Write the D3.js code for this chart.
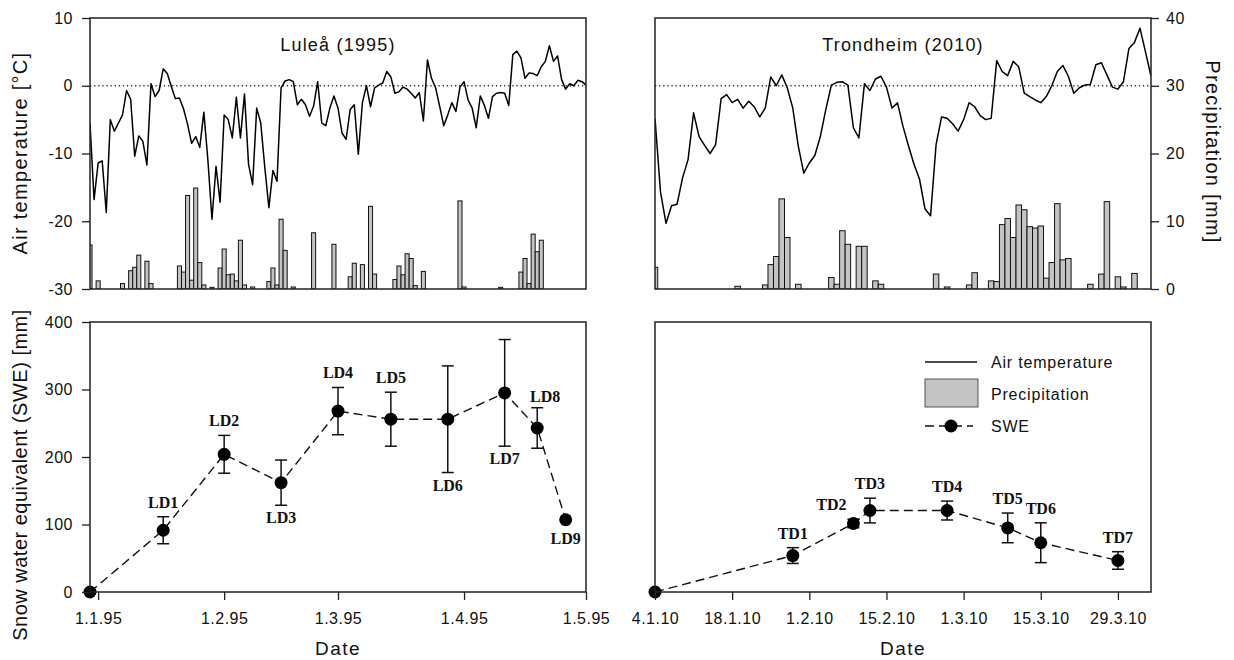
<!DOCTYPE html>
<html>
<head>
<meta charset="utf-8">
<script src="https://cdn.jsdelivr.net/npm/d3@7"></script>
<style>
  body { margin: 0; background: #fff; }
  svg { display: block; }
  text { font-family: "Liberation Sans", Arial, sans-serif; fill: #111; }
  .tick text { font-size: 16px; letter-spacing: 0.5px; }
  .tick line { stroke: #222; stroke-width: 1.3; }
  .lab { font-family: "Liberation Serif", "Times New Roman", serif; font-weight: bold; font-size: 16px; }
</style>
</head>
<body>
<script>
// daily series, Luleå starts 30.12.94, Trondheim starts 4.1.10
const luleaStart = "1994-12-30";
const luleaTemp = [
  -5.5, -16.8, -11.4, -11.1, -18.7, -5.0, -6.7, -5.5, -4.3, -0.7,
  -2.0, -10.4, -7.4, -8.2, -11.7, 0.3, -1.6, -0.7, 2.5, 1.8,
  -0.1, -1.9, -1.8, -3.4, -5.7, -8.5, -7.5, -9.1, -3.9, -11.0,
  -19.7, -11.9, -17.2, -4.3, -5.0, -7.7, -1.7, -7.7, -1.2, -11.6,
  -14.6, -3.3, -5.5, -12.1, -18.0, -12.5, -14.1, -0.3, 0.7, 0.9,
  0.6, -2.8, -2.0, -2.8, -4.5, -3.0, 0.6, -5.5, -5.9, -3.3,
  -1.5, -3.3, -7.0, -7.9, -3.5, -2.8, -10.1, -2.5, 0.0, -3.1,
  -0.3, 0.1, 0.4, 2.1, 1.3, -1.1, -0.9, -0.2, -0.5, -1.1,
  -1.8, -1.0, -5.2, 3.8, 1.1, -0.3, -3.0, -5.9, -4.3, -2.5,
  -3.8, -0.2, 0.6, -2.1, -3.3, -6.2, -1.5, -2.9, -4.8, -1.6,
  -1.1, -1.0, -1.1, -2.9, 4.6, 5.1, 4.1, 1.1, 1.9, 1.8,
  1.5, 2.8, 3.6, 5.9, 3.6, 4.4, 0.9, -0.5, 0.3, 0.0,
  0.8, 0.6, 0.1
];
const luleaPrecip = [
  6.5, 0, 1.2, 0, 0, 0, 0, 0, 0.8, 0,
  2.7, 3.2, 5.0, 0, 4.1, 0.8, 0, 0, 0, 0,
  0, 0, 3.4, 2.5, 13.8, 1.3, 14.9, 3.9, 0.6, 0,
  0.25, 0, 3.1, 5.9, 2.1, 2.2, 1.2, 7.2, 0.6, 0,
  0.3, 0, 0, 0, 1.1, 3.1, 0.6, 10.3, 5.7, 0,
  0.3, 0, 0, 0, 0, 8.3, 0, 0, 0, 0,
  6.6, 0, 0, 0, 1.8, 3.8, 0, 3.6, 0, 12.2,
  2.2, 0, 0, 0, 0, 1.4, 3.4, 2.1, 5.2, 4.5,
  0.5, 0, 2.6, 0, 0, 0, 0, 0, 0, 0,
  0, 13.0, 0.3, 0, 0, 0, 0, 0, 0, 0,
  0, 0.25, 0, 0, 0, 0, 2.5, 4.5, 0.8, 8.1,
  5.5, 7.2, 0, 0, 0, 0, 0, 0, 0, 0,
  0, 0, 0
];
const trondStart = "2010-01-04";
const trondTemp = [
  -4.8, -15.7, -20.3, -17.7, -17.5, -13.6, -10.9, -4.0, -7.5, -8.8,
  -10.0, -8.7, -1.9, -1.3, -2.5, -2.0, -3.3, -2.3, -3.1, -4.6,
  -3.3, 1.3, 0.0, 1.6, -0.3, -3.3, -8.9, -12.9, -11.4, -10.3,
  -7.5, -3.5, 0.1, 0.5, 0.6, 0.1, -6.2, -7.7, 0.3, -0.7,
  1.0, 1.4, -0.2, -3.3, -2.5, -6.0, -8.9, -11.6, -13.8, -18.2,
  -19.2, -8.7, -4.6, -4.8, -5.6, -6.7, -5.0, -2.5, -3.1, -4.4,
  -5.0, -4.8, 3.7, 2.1, 1.5, 3.6, 2.8, -1.1, -1.6, -2.1,
  -2.5, -1.6, 0.0, 2.1, 3.0, 1.4, -1.1, -0.3, 0.1, 0.2,
  3.1, 3.4, 1.6, -0.2, -0.5, 0.6, 5.5, 6.4, 8.5, 5.0,
  1.4
];
const trondPrecip = [
  3.2, 0, 0, 0, 0, 0, 0, 0, 0, 0,
  0, 0, 0, 0, 0, 0.4, 0, 0, 0, 0,
  0.6, 3.6, 4.8, 13.3, 7.6, 0, 0.7, 0, 0, 0,
  0, 0, 1.7, 0.7, 8.6, 6.6, 0, 6.3, 6.3, 0,
  1.2, 0.7, 0, 0, 0, 0, 0, 0, 0, 0,
  0, 2.2, 0, 0.3, 0, 0, 0, 0.6, 2.4, 0,
  0, 1.2, 1.1, 9.5, 10.4, 7.6, 12.4, 11.7, 9.2, 9.0,
  9.3, 1.6, 3.9, 12.6, 4.3, 4.5, 0, 0, 0, 0.7,
  0, 2.2, 12.9, 0, 1.8, 0.3, 0, 2.3, 0, 0,
  0
];

// snow surveys
const luleaSweDates = ["1994-12-30", "1995-01-17", "1995-02-01", "1995-02-15", "1995-03-01",
  "1995-03-14", "1995-03-28", "1995-04-11", "1995-04-19", "1995-04-26"];
const luleaSwe = [0, 91.5, 204, 162, 268, 256, 256, 295, 243, 107];
const luleaSweErr = [0, 20, 28, 33.5, 35, 40, 79, 79, 30, 0];
const luleaSweNames = ["", "LD1", "LD2", "LD3", "LD4", "LD5", "LD6", "LD7", "LD8", "LD9"];
const luleaNameSide = ["", "above", "above", "below", "above", "above", "below", "below", "right", "below"];

const trondSweDates = ["2010-01-04", "2010-01-29", "2010-02-09", "2010-02-12", "2010-02-26",
  "2010-03-09", "2010-03-15", "2010-03-29"];
const trondSwe = [0, 54, 101.5, 120.7, 120.7, 95, 73, 46.7];
const trondSweErr = [0, 11.7, 6.3, 18.3, 14, 22, 29.5, 13];
const trondSweNames = ["", "TD1", "TD2", "TD3", "TD4", "TD5", "TD6", "TD7"];
const trondNameSide = ["", "above", "left", "above", "above", "above", "above", "above"];

const tempTicks = [10, 0, -10, -20, -30];
const precipTicks = [0, 10, 20, 30, 40];
const sweTicks = [0, 100, 200, 300, 400];
const luleaDateTicks = ["1995-01-01", "1995-02-01", "1995-03-01", "1995-04-01", "1995-05-01"];
const trondDateTicks = ["2010-01-04", "2010-01-18", "2010-02-01", "2010-02-15", "2010-03-01", "2010-03-15", "2010-03-29"];

const parse = d3.timeParse("%Y-%m-%d");
const fmt = d3.timeFormat("%-d.%-m.%y");

const W = 1234, H = 660;
const svg = d3.select("body").append("svg").attr("width", W).attr("height", H);

const topBox = { y0: 18, y1: 289 };
const botBox = { y0: 322, y1: 592 };

const xL = d3.scaleTime().domain([parse("1994-12-30"), parse("1995-05-01")]).range([90, 586]);
const xT = d3.scaleTime().domain([parse("2010-01-04"), parse("2010-04-04")]).range([655, 1151]);
const yTemp = d3.scaleLinear().domain([-30, 10]).range([topBox.y1, topBox.y0]);
const yPrec = d3.scaleLinear().domain([0, 40]).range([topBox.y1, topBox.y0]);
const ySwe = d3.scaleLinear().domain([0, 400]).range([botBox.y1, botBox.y0]);

const defs = svg.append("defs");
function clip(id, x, p) {
  defs.append("clipPath").attr("id", id).append("rect")
    .attr("x", x.range()[0]).attr("y", p.y0)
    .attr("width", x.range()[1] - x.range()[0]).attr("height", p.y1 - p.y0);
  return `url(#${id})`;
}

function frame(x, p) {
  svg.append("rect")
    .attr("x", x.range()[0]).attr("y", p.y0)
    .attr("width", x.range()[1] - x.range()[0]).attr("height", p.y1 - p.y0)
    .attr("fill", "none").attr("stroke", "#222").attr("stroke-width", 1.5);
}

function weatherPanel(x, start, temp, precip, title, id) {
  const s = parse(start);
  const day = i => d3.timeDay.offset(s, i);
  const g = svg.append("g").attr("clip-path", clip(id, x, topBox));

  const bw = x(day(1)) - x(day(0));
  g.selectAll("rect.bar")
    .data(precip.map((p, i) => ({ i, p })).filter(d => d.p > 0))
    .join("rect")
    .attr("class", "bar")
    .attr("x", d => x(day(d.i)) - bw / 2)
    .attr("width", bw)
    .attr("y", d => yPrec(d.p))
    .attr("height", d => yPrec(0) - yPrec(d.p))
    .attr("fill", "#c4c4c4")
    .attr("stroke", "#111")
    .attr("stroke-width", 1);

  g.append("line")
    .attr("x1", x.range()[0]).attr("x2", x.range()[1])
    .attr("y1", yTemp(0)).attr("y2", yTemp(0))
    .attr("stroke", "#333").attr("stroke-width", 1.3)
    .attr("stroke-dasharray", "1.3,2.8");

  g.append("path")
    .datum(temp)
    .attr("fill", "none")
    .attr("stroke", "#000")
    .attr("stroke-width", 1.5)
    .attr("stroke-linejoin", "round")
    .attr("d", d3.line().x((d, i) => x(day(i))).y(d => yTemp(d)));

  frame(x, topBox);

  svg.append("text")
    .attr("x", (x.range()[0] + x.range()[1]) / 2)
    .attr("y", 51)
    .attr("text-anchor", "middle")
    .style("font-size", "18px")
    .style("letter-spacing", "1.2px")
    .text(title);
}

function swePanel(x, dates, swe, err, names, side) {
  const pts = dates.map((d, i) => ({ t: parse(d), v: swe[i], e: err[i], n: names[i], s: side[i] }));
  const g = svg.append("g");

  g.append("path")
    .datum(pts)
    .attr("fill", "none")
    .attr("stroke", "#111")
    .attr("stroke-width", 1.4)
    .attr("stroke-dasharray", "9,5")
    .attr("d", d3.line().x(d => x(d.t)).y(d => ySwe(d.v)));

  const eb = g.selectAll("g.err").data(pts.filter(d => d.e > 0)).join("g")
    .attr("class", "err")
    .attr("stroke", "#111").attr("stroke-width", 1.5);
  eb.append("line")
    .attr("x1", d => x(d.t)).attr("x2", d => x(d.t))
    .attr("y1", d => ySwe(d.v - d.e)).attr("y2", d => ySwe(d.v + d.e));
  [1, -1].forEach(sg => {
    eb.append("line")
      .attr("x1", d => x(d.t) - 6).attr("x2", d => x(d.t) + 6)
      .attr("y1", d => ySwe(d.v + sg * d.e)).attr("y2", d => ySwe(d.v + sg * d.e));
  });

  g.selectAll("circle").data(pts).join("circle")
    .attr("cx", d => x(d.t)).attr("cy", d => ySwe(d.v))
    .attr("r", 6.5).attr("fill", "#000");

  g.selectAll("text.lab").data(pts.filter(d => d.n)).join("text")
    .attr("class", "lab")
    .attr("text-anchor", "middle")
    .attr("x", d => x(d.t) + (d.s === "right" ? 8 : d.s === "left" ? -22 : 0))
    .attr("y", d => {
      if (d.s === "below") return ySwe(d.v - d.e) + (d.e > 0 ? 18 : 24);
      if (d.s === "right") return ySwe(d.v + d.e) - 6;
      return ySwe(d.v + d.e) - 9;
    })
    .text(d => d.n);

  frame(x, botBox);
}

weatherPanel(xL, luleaStart, luleaTemp, luleaPrecip, "Luleå (1995)", "cL");
weatherPanel(xT, trondStart, trondTemp, trondPrecip, "Trondheim (2010)", "cT");
swePanel(xL, luleaSweDates, luleaSwe, luleaSweErr, luleaSweNames, luleaNameSide);
swePanel(xT, trondSweDates, trondSwe, trondSweErr, trondSweNames, trondNameSide);

// axes
function styleAxis(sel) {
  sel.select(".domain").remove();
  sel.selectAll(".tick text").attr("fill", "#111");
}
svg.append("g").attr("transform", "translate(90,0)")
  .call(d3.axisLeft(yTemp).tickValues(tempTicks).tickSize(8).tickPadding(9).tickFormat(d => String(d)))
  .call(styleAxis);
svg.append("g").attr("transform", "translate(1151,0)")
  .call(d3.axisRight(yPrec).tickValues(precipTicks).tickSize(8).tickPadding(7).tickFormat(d => String(d)))
  .call(styleAxis);
svg.append("g").attr("transform", "translate(90,0)")
  .call(d3.axisLeft(ySwe).tickValues(sweTicks).tickSize(8).tickPadding(9).tickFormat(d => String(d)))
  .call(styleAxis);
svg.append("g").attr("transform", `translate(0,${botBox.y1})`)
  .call(d3.axisBottom(xL).tickValues(luleaDateTicks.map(parse)).tickSize(8).tickPadding(13).tickFormat(fmt))
  .call(styleAxis);
svg.append("g").attr("transform", `translate(0,${botBox.y1})`)
  .call(d3.axisBottom(xT).tickValues(trondDateTicks.map(parse)).tickSize(8).tickPadding(13).tickFormat(fmt))
  .call(styleAxis);

// axis titles
function title(txt, x, y, rot, size, ls) {
  svg.append("text")
    .attr("transform", `translate(${x},${y}) rotate(${rot})`)
    .attr("text-anchor", "middle")
    .style("font-size", size + "px")
    .style("letter-spacing", ls + "px")
    .text(txt);
}
title("Air temperature [°C]", 27, 153, -90, 20, 1.3);
title("Snow water equivalent (SWE) [mm]", 27, 475, -90, 20, 0.5);
title("Precipitation [mm]", 1206, 152, 90, 20, 1.3);
title("Date", 338, 655, 0, 19, 1.5);
title("Date", 903, 655, 0, 19, 1.5);

// legend
const lg = svg.append("g");
const lx0 = 925, lx1 = 977, ltx = 991;
lg.append("line").attr("x1", lx0).attr("x2", lx1).attr("y1", 362).attr("y2", 362)
  .attr("stroke", "#111").attr("stroke-width", 1.5);
lg.append("rect").attr("x", lx0).attr("y", 379).attr("width", lx1 - lx0 + 1).attr("height", 28)
  .attr("fill", "#c4c4c4").attr("stroke", "#555").attr("stroke-width", 1);
lg.append("line").attr("x1", lx0).attr("x2", lx1 - 4).attr("y1", 426).attr("y2", 426)
  .attr("stroke", "#111").attr("stroke-width", 1.4).attr("stroke-dasharray", "9,5");
lg.append("circle").attr("cx", 951).attr("cy", 426).attr("r", 6.5).attr("fill", "#000");
[["Air temperature", 362], ["Precipitation", 394], ["SWE", 426]].forEach(([t, y]) => {
  lg.append("text").attr("x", ltx).attr("y", y + 5.5)
    .style("font-size", "16px").style("letter-spacing", "0.8px").text(t);
});
</script>
</body>
</html>
